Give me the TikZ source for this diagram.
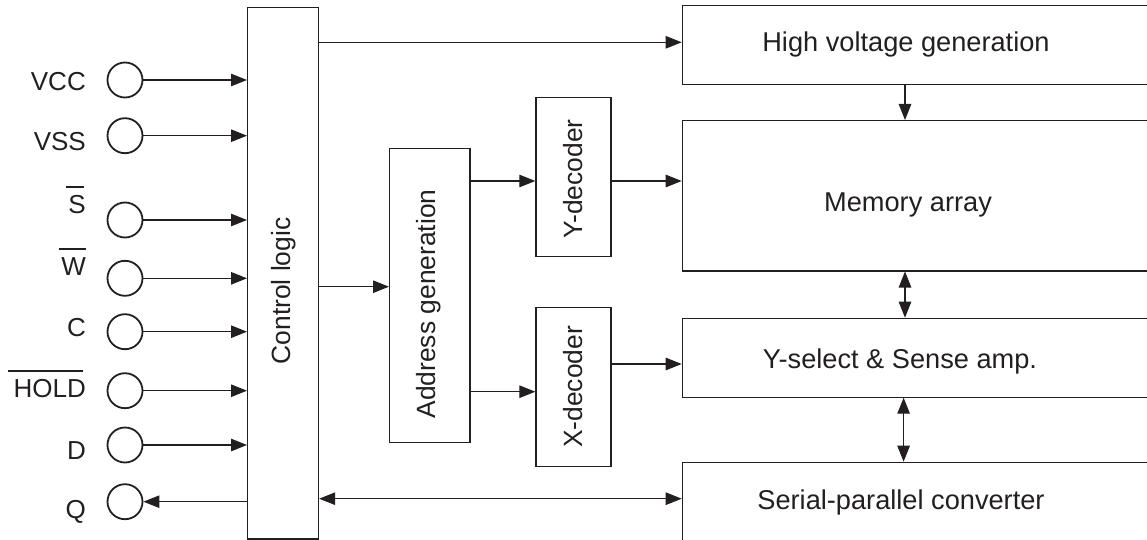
\documentclass[tikz,border=0pt]{standalone}
\usepackage{fontspec}
\setmainfont{Liberation Sans}
\usetikzlibrary{arrows.meta,calc}
\definecolor{ink}{RGB}{35,31,32}
\begin{document}
\begin{tikzpicture}[x=1pt,y=-1pt,
 box/.style={draw=ink, line width=1.2pt, rectangle, inner sep=0pt, anchor=north west},
 lbl/.style={font=\fontsize{26}{30}\selectfont, text=ink, inner sep=0pt, anchor=base east},
 htxt/.style={font=\fontsize{27.2}{32}\selectfont, text=ink, inner sep=0pt, anchor=base},
 vtxt/.style={font=\fontsize{26.4}{31}\selectfont, text=ink, inner sep=0pt, rotate=90},
 pin/.style={circle, draw=ink, line width=1.8pt, minimum size=35pt, inner sep=0pt},
 arr/.style={draw=ink, line width=1.1pt, -{Triangle[length=16pt,width=12.5pt]}},
 darr/.style={draw=ink, line width=1.1pt, {Triangle[length=16pt,width=12.5pt]}-{Triangle[length=16pt,width=12.5pt]}},
 bar/.style={draw=ink, line width=1.3pt}]
\useasboundingbox (0,0) rectangle (1147,540);
\clip (0,0) rectangle (1147,540);
% blocks
\node[box, minimum width=71pt, minimum height=531pt] (ctrl) at (247,7.3) {};
\node[vtxt] (ctrlT) at (284,291) {Control logic};
\node[box, minimum width=80.3pt, minimum height=294pt] (addr) at (389,147.7) {};
\node[vtxt] (addrT) at (428.5,304) {Address generation};
\node[box, minimum width=75pt, minimum height=159.3pt] (ydec) at (535.3,96.7) {};
\node[vtxt] (ydecT) at (573,179) {Y-decoder};
\node[box, minimum width=75pt, minimum height=159.3pt] (xdec) at (535.3,306.7) {};
\node[vtxt] (xdecT) at (573,387) {X-decoder};
\node[box, minimum width=480pt, minimum height=78.8pt] (hv) at (681.7,5.2) {};
\node[htxt] (hvT) at (906,51.7) {High voltage generation};
\node[box, minimum width=480pt, minimum height=150.3pt] (mem) at (681.7,120) {};
\node[htxt] (memT) at (908,211.9) {Memory array};
\node[box, minimum width=480pt, minimum height=78.8pt] (ysel) at (681.7,317.7) {};
\node[htxt] (yselT) at (900,368.6) {Y-select \& Sense amp.};
\node[box, minimum width=480pt, minimum height=100pt] (ser) at (681.7,461.7) {};
\node[htxt] (serT) at (901,509.9) {Serial-parallel converter};
% pins
\foreach \n/\y/\b/\t in {vcc/80/91/VCC, vss/135.7/151/VSS, s/220/213.3/S, w/278.3/275/W, c/331.7/336.7/C, hold/390.7/397.3/HOLD, d/445/459/D}{
  \node[pin] (p\n) at (125,\y) {};
  \node[lbl] (l\n) at (86,\b) {\t};
  \draw[arr] (p\n.east) -- (p\n.east -| ctrl.west);
}
\node[pin] (pq) at (125,501.7) {};
\node[lbl] (lq) at (86,518.6) {Q};
\draw[arr] (pq.east -| ctrl.west) -- (pq.east);
% overbars
\draw[bar] ($(ls.north west)+(-2,-8)$) -- ($(ls.north east)+(-2,-8)$);
\draw[bar] ($(lw.north west)+(-2,-8)$) -- ($(lw.north east)+(0,-8)$);
\draw[bar] ($(lhold.north west)+(-5,-8)$) -- ($(lhold.north east)+(-3,-8)$);
% helper coordinates
\coordinate (yHV) at (0,42.3);
\coordinate (yAddr) at (0,286.7);
\coordinate (yYd) at (0,181);
\coordinate (yXd) at (0,391.7);
\coordinate (yXs) at (0,364);
\coordinate (ySer) at (0,498.7);
\coordinate (xV1) at (905,0);
\coordinate (xV2) at (903.6,0);
% connectors
\draw[arr] (ctrl.east |- yHV) -- (hv.west |- yHV);
\draw[arr] (ctrl.east |- yAddr) -- (addr.west |- yAddr);
\draw[arr] (addr.east |- yYd) -- (ydec.west |- yYd);
\draw[arr] (ydec.east |- yYd) -- (mem.west |- yYd);
\draw[arr] (addr.east |- yXd) -- (xdec.west |- yXd);
\draw[arr] (xdec.east |- yXs) -- (ysel.west |- yXs);
\draw[darr] (ctrl.east |- ySer) -- (ser.west |- ySer);
\draw[arr] (hv.south -| xV1) -- (mem.north -| xV1);
\draw[darr] (mem.south -| xV1) -- (ysel.north -| xV1);
\draw[darr] (ysel.south -| xV2) -- (ser.north -| xV2);
\end{tikzpicture}
\end{document}
